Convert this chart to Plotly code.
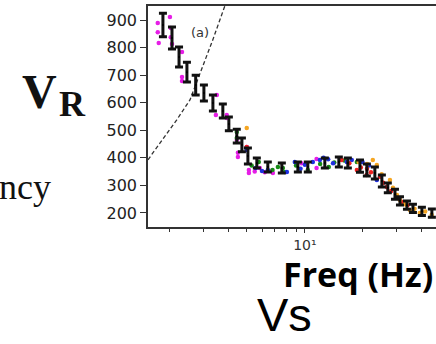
import plotly.graph_objects as go

# ---- data ----
bar_freq = [1.84, 2.05, 2.23, 2.45, 2.72, 3.00, 3.34, 3.76, 4.04, 4.44, 4.72, 5.07,
            5.64, 6.43, 7.60, 9.20, 10.36, 12.69, 15.0, 16.7, 19.3, 20.95, 23.05,
            25.06, 26.9, 29.3, 31.1, 33.8, 36.3, 40.4, 45.5]
bar_v = [882, 835, 766, 711, 664, 635, 599, 570, 523, 479, 447, 407,
         381, 367, 363, 367, 367, 381, 385, 381, 370, 356, 345,
         316, 291, 268, 244, 228, 217, 206, 199]
bar_err = [43, 40, 36, 36, 36, 29, 29, 25, 25, 25, 25, 29,
           18, 18, 18, 18, 18, 18, 18, 18, 22, 22, 22,
           22, 18, 18, 15, 15, 15, 15, 15]

mag_freq = [1.73, 1.73, 1.75, 2.00, 2.02, 2.02, 2.05, 2.31, 2.31, 2.31, 3.50, 3.46,
            3.94, 3.94, 4.44, 4.50, 4.50, 5.00, 5.13, 5.13, 5.84, 6.75, 6.83, 11.5, 11.5,
            5.5, 6.2, 9.6]
mag_v = [889, 856, 817, 911, 871, 838, 813, 784, 693, 679, 628, 555,
         555, 545, 465, 418, 403, 439, 356, 345, 363, 352, 345, 363, 396,
         350, 348, 380]

grn_freq = [4.44, 4.44, 5.77, 7.25, 7.69, 7.88, 10.36, 13.3, 18.6,
            9.0, 12.0, 16.0, 6.8, 5.3, 14.2]
grn_v = [494, 472, 385, 367, 363, 349, 356, 367, 385,
         372, 378, 390, 356, 372, 383]

blu_freq = [5.0, 5.57, 6.43, 8.07, 8.87, 11.0, 11.96, 16.5, 19.9, 23.6,
            10.0, 12.5, 14.0, 17.5, 21.5, 9.5, 6.0, 13.2]
blu_v = [428, 363, 356, 349, 385, 385, 392, 385, 385, 320,
         375, 400, 380, 392, 372, 360, 352, 395]

red_freq = [5.0, 15.5, 18.6, 20.9, 24.5, 26.6, 29.9, 32.2,
            17.0, 19.5, 22.0, 25.5, 28.0, 31.0, 34.0, 21.0]
red_v = [439, 392, 356, 338, 331, 294, 258, 240,
         380, 365, 348, 310, 280, 250, 228, 360]

org_freq = [5.0, 22.5, 23.6, 27.6, 28.6, 31.1, 35.0, 39.4, 45.4,
            19.0, 21.0, 25.0, 30.0, 33.0, 37.0, 42.0]
org_v = [508, 392, 374, 320, 291, 247, 211, 200, 193,
         385, 378, 340, 265, 232, 215, 205]

curve_freq = [1.54, 2.17, 2.54, 3.33, 3.85, 4.1]
curve_v = [393, 538, 610, 827, 951, 1000]

y_ticks = [200, 300, 400, 500, 600, 700, 800, 900]
x_major = [10]
x_major_text = ["10¹"]
x_minor = [2, 3, 4, 5, 6, 7, 8, 9, 20, 30, 40]

fig = go.Figure()

fig.add_trace(go.Scatter(x=curve_freq, y=curve_v, mode="lines",
                         line=dict(color="#333333", width=1.3, dash="4px,2.5px"),
                         showlegend=False))

for fx, fy, col in [(mag_freq, mag_v, "#e61ee6"), (grn_freq, grn_v, "#168a16"),
                    (blu_freq, blu_v, "#1f2fe0"), (red_freq, red_v, "#f02020"),
                    (org_freq, org_v, "#f5a623")]:
    fig.add_trace(go.Scatter(x=fx, y=fy, mode="markers",
                             marker=dict(color=col, size=4.5, line=dict(width=0)),
                             showlegend=False))

fig.add_trace(go.Scatter(x=bar_freq, y=bar_v, mode="markers",
                         marker=dict(color="black", size=2),
                         error_y=dict(type="data", array=bar_err, color="#111111",
                                      thickness=3, width=4),
                         showlegend=False))

W, H = 436, 344
L, R, T, B = 148, 0, 6, 117
pw, ph = W - L - R, H - T - B

def px(x):
    return (x - L) / pw

def py(y):
    return (H - B - y) / ph

fig.update_layout(
    width=W, height=H,
    margin=dict(l=L, r=R, t=T, b=B),
    paper_bgcolor="white", plot_bgcolor="white",
    font=dict(family="DejaVu Sans", color="#222222"),
    xaxis=dict(type="log", range=[0.1875, 1.6794], showgrid=False, zeroline=False,
               showline=True, linecolor="#333333", linewidth=1.5, mirror=True,
               ticks="outside", ticklen=4, tickcolor="#333333",
               tickvals=x_major, ticktext=x_major_text,
               tickfont=dict(size=14, color="#333333"),
               minor=dict(tickvals=x_minor, ticks="outside", ticklen=3,
                          tickcolor="#333333")),
    yaxis=dict(range=[149, 951], showgrid=False, zeroline=False,
               showline=True, linecolor="#333333", linewidth=1.5, mirror=False,
               ticks="outside", ticklen=6, tickcolor="#333333",
               tickvals=y_ticks, tickfont=dict(size=16, color="#222222")),
    annotations=[
        dict(text="(a)", x=px(189), y=py(32), xref="paper", yref="paper",
             xanchor="left", yanchor="middle", showarrow=False,
             font=dict(size=13, color="#333333")),
        dict(text="<b>V</b>", x=px(20), y=py(92), xref="paper", yref="paper",
             xanchor="left", yanchor="middle", showarrow=False,
             font=dict(family="Liberation Serif", size=48, color="#111111")),
        dict(text="<b>R</b>", x=px(57), y=py(104), xref="paper", yref="paper",
             xanchor="left", yanchor="middle", showarrow=False,
             font=dict(family="Liberation Serif", size=36, color="#111111")),
        dict(text="ncy", x=px(-3), y=py(187), xref="paper", yref="paper",
             xanchor="left", yanchor="middle", showarrow=False,
             font=dict(family="Liberation Serif", size=36, color="#111111")),
        dict(text="<b>Freq (Hz)</b>", x=px(281), y=py(274), xref="paper", yref="paper",
             xanchor="left", yanchor="middle", showarrow=False,
             font=dict(family="Open Sans", size=34, color="#000000")),
        dict(text="Vs", x=px(255), y=py(343), xref="paper", yref="paper",
             xanchor="left", yanchor="bottom", showarrow=False,
             font=dict(family="Liberation Sans", size=47, color="#000000")),
    ],
)

fig.write_html("out.html")
